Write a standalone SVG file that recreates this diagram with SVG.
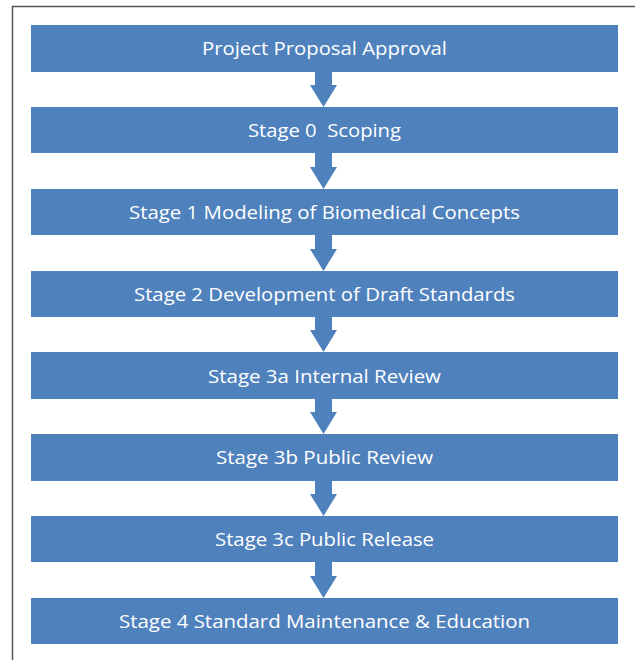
<svg xmlns="http://www.w3.org/2000/svg" width="635" height="660" viewBox="0 0 635 660">
<style>
.box{fill:#4F81BD;}
.lbl{font-family:"Open Sans","Liberation Sans",sans-serif;font-size:19px;fill:#FFFFFF;text-anchor:middle;}
.arr{fill:#4F81BD;}
</style>
<rect x="0" y="0" width="635" height="660" fill="#FFFFFF"/>
<path d="M12.5 660 V6.5 H635" fill="none" stroke="#555555" stroke-width="1.5"/>
<g id="connectors">
<path class="arr" d="M315 72 H332 V85 H337 L323.5 107 L310 85 H315 Z"/>
<path class="arr" d="M315 153 H332 V167 H337 L323.5 189 L310 167 H315 Z"/>
<path class="arr" d="M315 235 H332 V249 H337 L323.5 271 L310 249 H315 Z"/>
<path class="arr" d="M315 317 H332 V330 H337 L323.5 352 L310 330 H315 Z"/>
<path class="arr" d="M315 399 H332 V412 H337 L323.5 434 L310 412 H315 Z"/>
<path class="arr" d="M315 481 H332 V494 H337 L323.5 516 L310 494 H315 Z"/>
<path class="arr" d="M315 562 H332 V576 H337 L323.5 598 L310 576 H315 Z"/>
</g>
<g id="n0"><rect class="box" x="31" y="25" width="587" height="47"/><text class="lbl" x="324.5" y="55" textLength="245" lengthAdjust="spacingAndGlyphs">Project Proposal Approval</text></g>
<g id="n1"><rect class="box" x="31" y="107" width="587" height="46"/><text class="lbl" x="324.5" y="137" textLength="153" lengthAdjust="spacingAndGlyphs" xml:space="preserve">Stage 0  Scoping</text></g>
<g id="n2"><rect class="box" x="31" y="189" width="587" height="46"/><text class="lbl" x="324.5" y="219" textLength="391" lengthAdjust="spacingAndGlyphs">Stage 1 Modeling of Biomedical Concepts</text></g>
<g id="n3"><rect class="box" x="31" y="271" width="587" height="46"/><text class="lbl" x="324.5" y="301" textLength="381" lengthAdjust="spacingAndGlyphs">Stage 2 Development of Draft Standards</text></g>
<g id="n4"><rect class="box" x="31" y="352" width="587" height="47"/><text class="lbl" x="324.5" y="383" textLength="233" lengthAdjust="spacingAndGlyphs">Stage 3a Internal Review</text></g>
<g id="n5"><rect class="box" x="31" y="434" width="587" height="47"/><text class="lbl" x="324.5" y="464" textLength="217" lengthAdjust="spacingAndGlyphs">Stage 3b Public Review</text></g>
<g id="n6"><rect class="box" x="31" y="516" width="587" height="46"/><text class="lbl" x="324.5" y="546" textLength="219" lengthAdjust="spacingAndGlyphs">Stage 3c Public Release</text></g>
<g id="n7"><rect class="box" x="31" y="598" width="587" height="46"/><text class="lbl" x="324.5" y="628" textLength="411" lengthAdjust="spacingAndGlyphs">Stage 4 Standard Maintenance &amp; Education</text></g>
</svg>
